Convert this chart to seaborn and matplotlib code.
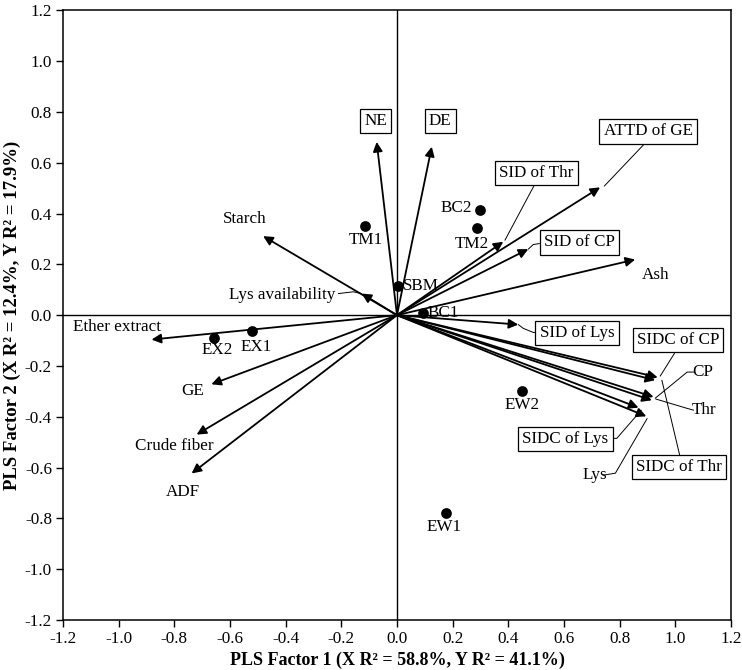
import matplotlib
matplotlib.use("Agg")
import matplotlib.pyplot as plt
import seaborn as sns
import pandas as pd

# ---- data ----
var_names = ["NE", "DE", "ATTD of GE", "SID of Thr", "SID of CP", "Ash", "SID of Lys",
             "SIDC of CP", "SIDC of Thr", "CP", "Thr", "SIDC of Lys", "Lys",
             "Starch", "Lys availability", "Ether extract", "GE", "Crude fiber", "ADF"]
var_x = [-0.073, 0.125, 0.730, 0.382, 0.472, 0.856, 0.436,
         0.937, 0.928, 0.922, 0.916, 0.868, 0.896,
         -0.481, -0.127, -0.882, -0.667, -0.720, -0.738]
var_y = [0.682, 0.663, 0.503, 0.289, 0.260, 0.219, -0.037,
         -0.245, -0.256, -0.322, -0.335, -0.364, -0.398,
         0.311, 0.085, -0.096, -0.272, -0.470, -0.623]

score_names = ["TM1", "BC2", "TM2", "SBM", "BC1", "EX1", "EX2", "EW2", "EW1"]
score_x = [-0.115, 0.297, 0.287, 0.005, 0.095, -0.520, -0.657, 0.451, 0.176]
score_y = [0.350, 0.415, 0.344, 0.115, 0.010, -0.063, -0.089, -0.299, -0.777]

ticks = [-1.2, -1.0, -0.8, -0.6, -0.4, -0.2, 0.0, 0.2, 0.4, 0.6, 0.8, 1.0, 1.2]
xlabel = "PLS Factor 1 (X R\u00b2 = 58.8%, Y R\u00b2 = 41.1%)"
ylabel = "PLS Factor 2 (X R\u00b2 = 12.4%, Y R\u00b2 = 17.9%)"

# ---- layout (label placement) ----
var_label_pos = {
    "NE": (-0.076, 0.764, True), "DE": (0.155, 0.764, True),
    "ATTD of GE": (0.903, 0.724, True), "SID of Thr": (0.50, 0.559, True),
    "SID of CP": (0.655, 0.287, True), "Ash": (0.928, 0.157, False),
    "SID of Lys": (0.647, -0.071, True), "SIDC of CP": (1.010, -0.098, True),
    "CP": (1.100, -0.224, False), "Thr": (1.104, -0.374, False),
    "SIDC of Lys": (0.605, -0.488, True), "Lys": (0.712, -0.628, False),
    "SIDC of Thr": (1.014, -0.598, True), "Starch": (-0.547, 0.378, False),
    "Lys availability": (-0.414, 0.079, False), "Ether extract": (-1.007, -0.047, False),
    "GE": (-0.734, -0.300, False), "Crude fiber": (-0.800, -0.516, False),
    "ADF": (-0.770, -0.697, False),
}
leaders = [
    [(0.903, 0.690), (0.745, 0.508)],
    [(0.50, 0.525), (0.388, 0.295)],
    [(0.472, 0.260), (0.49, 0.278), (0.512, 0.282)],
    [(0.436, -0.037), (0.454, -0.052), (0.49, -0.068), (0.508, -0.068)],
    [(1.006, -0.135), (0.946, -0.240)],
    [(1.066, -0.224), (1.043, -0.224), (0.928, -0.327)],
    [(1.066, -0.374), (1.040, -0.366), (0.93, -0.330)],
    [(0.770, -0.485), (0.790, -0.485), (0.878, -0.374)],
    [(0.740, -0.630), (0.785, -0.622), (0.899, -0.407)],
    [(1.018, -0.560), (0.952, -0.256)],
    [(-0.211, 0.085), (-0.157, 0.092), (-0.127, 0.085)],
]
score_label_pos = {
    "TM1": (-0.113, 0.295, "center"), "BC2": (0.215, 0.420, "center"),
    "TM2": (0.270, 0.282, "center"), "SBM": (0.022, 0.115, "left"),
    "BC1": (0.110, 0.008, "left"), "EX1": (-0.505, -0.126, "center"),
    "EX2": (-0.647, -0.139, "center"), "EW2": (0.450, -0.355, "center"),
    "EW1": (0.170, -0.832, "center"),
}

sns.set_theme(style="white")
plt.rcParams["font.family"] = ["Liberation Serif", "DejaVu Serif"]
plt.rcParams["axes.unicode_minus"] = False

fig = plt.figure(figsize=(7.42, 6.70), dpi=100)
ax = fig.add_axes([0.085, 0.0746, 0.900, 0.910])

ax.axhline(0, color="black", lw=1.0, zorder=1)
ax.axvline(0, color="black", lw=1.0, zorder=1)

# arrows
for n, x, y in zip(var_names, var_x, var_y):
    ax.annotate("", xy=(x, y), xytext=(0, 0),
                arrowprops=dict(arrowstyle="-|>", color="black", lw=1.3,
                                mutation_scale=14, shrinkA=0, shrinkB=0),
                zorder=3)

for path in leaders:
    xs, ys = zip(*path)
    ax.plot(xs, ys, color="black", lw=0.7, zorder=2)

for n in var_names:
    lx, ly, boxed = var_label_pos[n]
    kw = {}
    if boxed:
        kw["bbox"] = dict(boxstyle="square,pad=0.25", fc="white", ec="black", lw=0.9)
    ax.text(lx, ly, n, ha="center", va="center", fontsize=12.3, color="black",
            zorder=5, **kw)

df = pd.DataFrame({"x": score_x, "y": score_y, "name": score_names})
sns.scatterplot(data=df, x="x", y="y", color="black", s=60, edgecolor="black",
                linewidth=0, ax=ax, zorder=4)
for n in score_names:
    lx, ly, ha = score_label_pos[n]
    ax.text(lx, ly, n, ha=ha, va="center", fontsize=12.3, color="black", zorder=5)

ax.set_xlim(-1.2, 1.2)
ax.set_ylim(-1.2, 1.2)
ax.set_xticks(ticks)
ax.set_yticks(ticks)
ax.set_xticklabels([f"{t:.1f}" for t in ticks])
ax.set_yticklabels([f"{t:.1f}" for t in ticks])
ax.tick_params(axis="both", direction="out", length=5, width=1.0, labelsize=12.3,
               colors="black", bottom=True, left=True, pad=3)
for s in ax.spines.values():
    s.set_color("black")
    s.set_linewidth(1.1)
ax.set_xlabel(xlabel, fontsize=13, fontweight="bold", labelpad=3, color="black")
ax.set_ylabel(ylabel, fontsize=13.5, fontweight="bold", labelpad=3, color="black")
ax.grid(False)

fig.savefig("out.png", dpi=100)
